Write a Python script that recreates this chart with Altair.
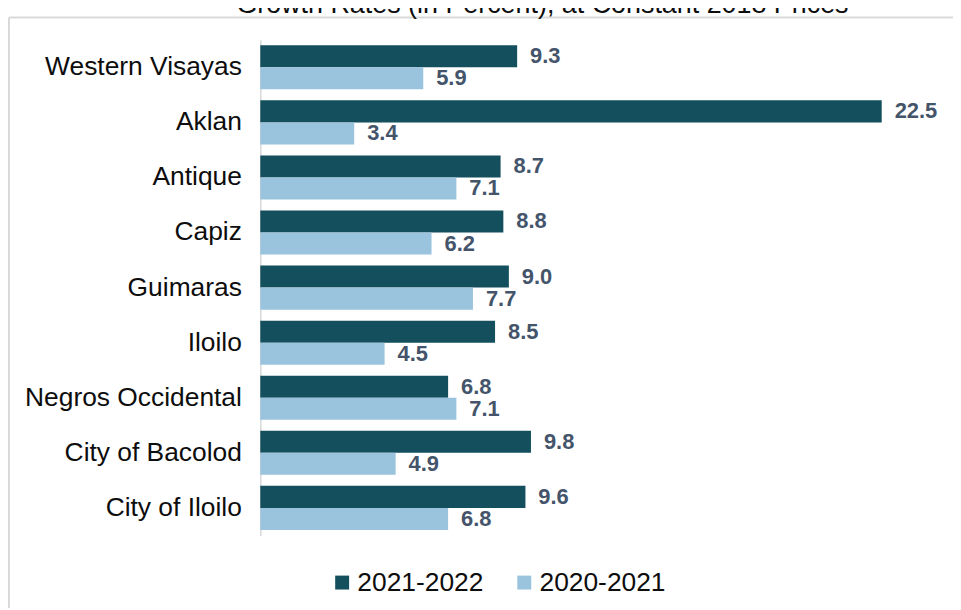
import altair as alt
import pandas as pd

TITLE = "Growth Rates (in Percent), at Constant 2018 Prices"
regions = ["Western Visayas", "Aklan", "Antique", "Capiz", "Guimaras", "Iloilo",
           "Negros Occidental", "City of Bacolod", "City of Iloilo"]
series = ["2021-2022", "2020-2021"]
g_2021_2022 = [9.3, 22.5, 8.7, 8.8, 9.0, 8.5, 6.8, 9.8, 9.6]
g_2020_2021 = [5.9, 3.4, 7.1, 6.2, 7.7, 4.5, 7.1, 4.9, 6.8]
colors = ["#134F5C", "#9AC3DD"]

rows = []
for r, a, b in zip(regions, g_2021_2022, g_2020_2021):
    rows.append({"region": r, "series": series[0], "value": a})
    rows.append({"region": r, "series": series[1], "value": b})
df = pd.DataFrame(rows)

FONT = "Liberation Sans"

y_enc = alt.Y("region:N", sort=regions,
              scale=alt.Scale(paddingInner=0.2, paddingOuter=0.1),
              axis=alt.Axis(title=None, ticks=False, labelFontSize=26.5, labelColor="#0d0d0d",
                            labelFont=FONT, labelPadding=19, domainColor="#d9d9d9",
                            domainWidth=1.5, labelLimit=400))
yoff = alt.YOffset("series:N", sort=series, scale=alt.Scale(paddingInner=0, paddingOuter=0))
x_enc = alt.X("value:Q", scale=alt.Scale(domain=[0, 24], nice=False), axis=None)

base = alt.Chart(df)
bars = base.mark_bar().encode(
    x=x_enc, y=y_enc, yOffset=yoff,
    color=alt.Color("series:N", sort=series,
                    scale=alt.Scale(domain=series, range=colors),
                    legend=alt.Legend(title=None, orient="none", direction="horizontal",
                                      legendX=69, legendY=532, symbolType="square",
                                      symbolSize=196, symbolStrokeWidth=0,
                                      labelFontSize=26.5, labelFont=FONT, labelColor="#0d0d0d",
                                      labelOffset=2, columnPadding=27)),
)
labels = base.mark_text(align="left", baseline="middle", dx=13, fontSize=22,
                        fontWeight="bold", font=FONT, color="#44546A").encode(
    x=x_enc, y=y_enc, yOffset=yoff, text=alt.Text("value:Q", format=".1f"))

one = alt.Chart(pd.DataFrame({"t": [TITLE]}))
title = one.mark_text(align="center", baseline="alphabetic", fontSize=27, font=FONT,
                      color="#0d0d0d").encode(text="t:N", x=alt.value(283.5), y=alt.value(-26.5))
top_border = one.mark_rule(color="#d9d9d9", strokeWidth=2).encode(
    x=alt.value(-252.5), x2=alt.value(720), y=alt.value(-22.5))
left_border = one.mark_rule(color="#d9d9d9", strokeWidth=2).encode(
    x=alt.value(-252.5), y=alt.value(-22.5), y2=alt.value(600))

chart = alt.layer(top_border, left_border, title, bars, labels).properties(
    width=666, height=498,
    autosize=alt.AutoSizeParams(type="none"),
    padding={"left": 253.5, "top": 30.5, "right": 30, "bottom": 71.5},
).configure_view(strokeWidth=0)

chart.save("out.html", embed_options={"renderer": "svg", "actions": False})
